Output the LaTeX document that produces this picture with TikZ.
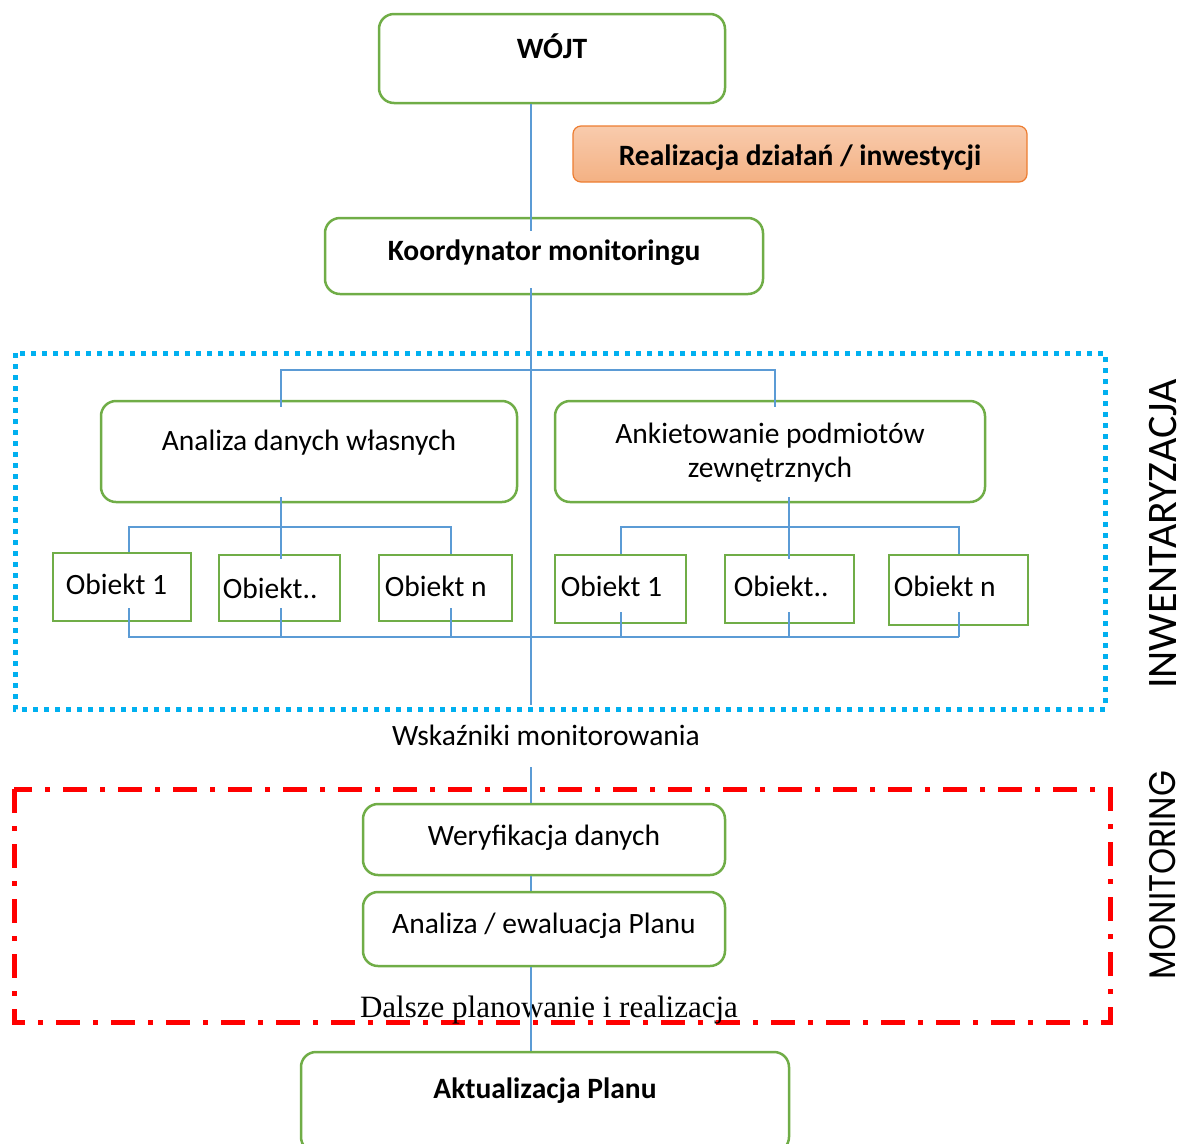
\documentclass[tikz,border=0pt]{standalone}
\usepackage{fontspec}
\setmainfont{Carlito}
\newfontfamily\serfont{Liberation Serif}
\newfontfamily\geofont[FakeStretch=0.9]{Poppins}
\usetikzlibrary{calc}
\definecolor{boxgreen}{HTML}{70AD47}
\definecolor{connblue}{HTML}{5B9BD5}
\definecolor{dotblue}{HTML}{00B0F0}
\definecolor{orangeb}{HTML}{ED7D31}
\definecolor{orangetop}{HTML}{F8CBAD}
\definecolor{orangebot}{HTML}{F4B183}
\begin{document}
\begin{tikzpicture}[x=1pt,y=-1pt,
  txt/.style={font=\fontsize{29.5}{34}\selectfont},
  btxt/.style={font=\fontsize{29.5}{34}\selectfont\bfseries},
  gbox/.style={draw=boxgreen, line width=2.5pt, rounded corners=15pt, inner sep=0pt},
  obox/.style={draw=boxgreen, line width=2.5pt, inner sep=0pt},
  otxt/.style={txt, anchor=west, inner sep=0pt},
  conn/.style={draw=connblue, line width=1.2pt},
]
\useasboundingbox (0,0) rectangle (1187,1144);

% frames
\draw[dotblue, line width=5pt, dash pattern=on 5pt off 6pt] (15,353) rectangle (1105,709);
\draw[red, line width=5pt, dash pattern=on 24pt off 13pt on 5pt off 13pt] (14,789) rectangle (1110,1022);

% coordinates
\coordinate (spine) at (531,0);
\coordinate (spend) at (531,705);
\coordinate (spb) at (531,767);
\coordinate (xa) at (129,0);
\coordinate (xb) at (281,0);
\coordinate (xc) at (451,0);
\coordinate (xd) at (621,0);
\coordinate (xe) at (789,0);
\coordinate (xf) at (959,0);
\coordinate (xr) at (775,0);
\coordinate (topbus) at (0,370);
\coordinate (lbus) at (0,527);
\coordinate (bbus) at (0,637);

% boxes
\node[gbox, minimum width=346pt, minimum height=89pt,
      label={[btxt, yshift=12pt]center:WÓJT}] (wojt) at (552,58.5) {};
\node[draw=orangeb, line width=1.2pt, rounded corners=8pt, top color=orangetop, bottom color=orangebot,
      minimum width=454pt, minimum height=56pt, inner sep=0pt,
      label={[btxt, yshift=-4pt]center:Realizacja działań / inwestycji}] (real) at (800,154) {};
\node[gbox, minimum width=438pt, minimum height=76pt,
      label={[btxt, yshift=3pt]center:Koordynator monitoringu}] (koord) at (544,256) {};
\node[gbox, minimum width=416pt, minimum height=101pt,
      label={[txt, yshift=9pt]center:Analiza danych własnych}] (anal) at (309,451.5) {};
\node[gbox, minimum width=430pt, minimum height=101pt,
      label={[txt, align=center, yshift=-1pt]center:Ankietowanie podmiotów\\zewnętrznych}] (ankiet) at (770,451.5) {};

\node[obox, minimum width=138pt, minimum height=68pt,
      label={[otxt, xshift=14pt, yshift=3pt]west:Obiekt 1}] (o1) at (122,587) {};
\node[obox, minimum width=121pt, minimum height=66pt,
      label={[otxt, xshift=5pt]west:Obiekt..}] (o2) at (279.5,588) {};
\node[obox, minimum width=133pt, minimum height=66pt,
      label={[otxt, xshift=7pt, yshift=2pt]west:Obiekt n}] (o3) at (445.5,588) {};
\node[obox, minimum width=131pt, minimum height=68pt,
      label={[otxt, xshift=7pt, yshift=3pt]west:Obiekt 1}] (p1) at (620.5,589) {};
\node[obox, minimum width=129pt, minimum height=68pt,
      label={[otxt, xshift=10pt, yshift=3pt]west:Obiekt..}] (p2) at (789.5,589) {};
\node[obox, minimum width=139pt, minimum height=70pt,
      label={[otxt, xshift=6pt, yshift=4pt]west:Obiekt n}] (p3) at (958.5,590) {};

\node[txt] (wsk) at (546,735) {Wskaźniki monitorowania};
\node[gbox, minimum width=362pt, minimum height=71pt,
      label={[txt, yshift=2pt]center:Weryfikacja danych}] (wery) at (544,839.5) {};
\node[gbox, minimum width=362pt, minimum height=74pt,
      label={[txt, yshift=3pt]center:Analiza / ewaluacja Planu}] (ewal) at (544,929) {};
\node[font=\serfont\fontsize{31}{36}\selectfont] (dal) at (549,1010) {Dalsze planowanie i realizacja};
\node[gbox, minimum width=488pt, minimum height=100pt,
      label={[btxt, yshift=11pt]center:Aktualizacja Planu}] (aktual) at (545,1102) {};

\node[rotate=90, inner sep=0pt, font=\fontsize{42}{48}\selectfont] (inw) at (1163,534) {INWENTARYZACJA};
\node[rotate=90, inner sep=0pt, font=\geofont\fontsize{37}{42}\selectfont] (mon) at (1163,875) {MONITORING};

% connectors
\draw[conn, shorten >=-14pt] (wojt.south -| spine) -- (koord.north -| spine);
\draw[conn, shorten <=-7pt] (koord.south -| spine) -- (spend);
\draw[conn, shorten <=-7pt, shorten >=-7pt] (anal.north -| xb) |- (topbus -| xr) -- (ankiet.north -| xr);
% left group
\draw[conn, shorten <=-6pt, shorten >=-5pt] (anal.south -| xb) -- (o2.north -| xb);
\draw[conn] (o1.north -| xa) |- (lbus -| xc) -- (o3.north -| xc);
\draw[conn] (o1.south -| xa) ++(0,-14) -- (xa |- bbus) -- (xf |- bbus);
\draw[conn] (o2.south -| xb) ++(0,-14) -- (xb |- bbus);
\draw[conn] (o3.south -| xc) ++(0,-14) -- (xc |- bbus);
% right group
\draw[conn, shorten <=-6pt, shorten >=-5pt] (ankiet.south -| xe) -- (p2.north -| xe);
\draw[conn] (p1.north -| xd) |- (lbus -| xf) -- (p3.north -| xf);
\draw[conn] (p1.south -| xd) ++(0,-12) -- (xd |- bbus);
\draw[conn] (p2.south -| xe) ++(0,-12) -- (xe |- bbus);
\draw[conn] (p3.south -| xf) ++(0,-14) -- (xf |- bbus);
% monitoring chain
\draw[conn] (spb) -- (wery.north -| spb);
\draw[conn] (wery.south -| spine) -- (ewal.north -| spine);
\draw[conn] (ewal.south -| spine) -- (aktual.north -| spine);
\end{tikzpicture}
\end{document}
